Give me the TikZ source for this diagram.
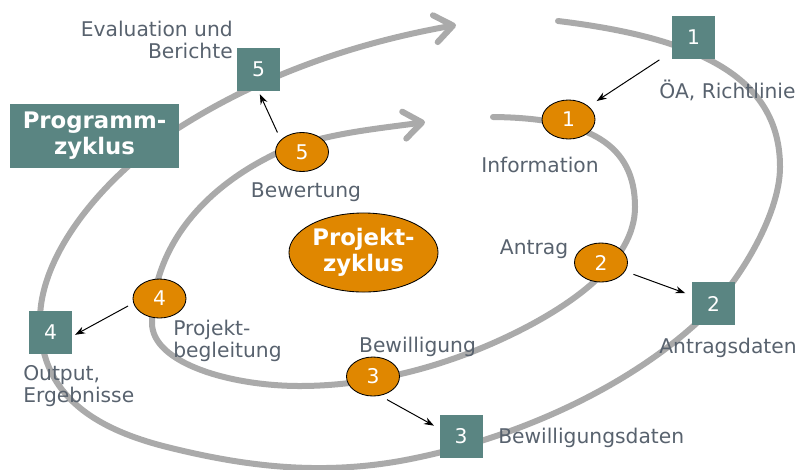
\documentclass[tikz,border=0pt]{standalone}
\usepackage{fontspec}
\setmainfont{DejaVu Sans}
\usetikzlibrary{arrows.meta,shapes.geometric}
\definecolor{petrol}{RGB}{90,133,130}
\definecolor{orangeb}{RGB}{224,135,0}
\definecolor{textgrau}{RGB}{88,98,110}
\definecolor{bahngrau}{RGB}{170,170,170}

\begin{document}
\begin{tikzpicture}[x=0.025cm, y=-0.025cm, every node/.style={font=\fontsize{14.4}{15.3}\selectfont},
	kasten/.style={fill=petrol, text=white, minimum size=1.075cm, inner sep=0pt},
	oval/.style={draw, ellipse, fill=orangeb, text=white, minimum width=1.325cm, minimum height=0.975cm, inner sep=0pt, line width=0.6pt},
	titel/.style={font=\bfseries\fontsize{16.2}{18.4}\selectfont, align=center},
	beschr/.style={text=textgrau, inner sep=0pt},
	bahn/.style={draw=bahngrau, line width=0.15cm, line cap=round, -{Straight Barb[length=0.45cm,width=0.68cm,round]}},
	pfeil/.style={-{Stealth[length=0.25cm,width=0.18cm]}, line width=0.7pt}]
		\useasboundingbox (0,0) rectangle (799,469);
		\draw[bahn] (558,21) .. controls (698,38) and (780,77) .. (780,167)
			.. controls (780,217) and (735,288) .. (700,320)
			.. controls (625,390) and (510,441) .. (400,461)
			.. controls (320,475) and (247,467) .. (167,447)
			.. controls (87,427) and (40,390) .. (40,320)
			.. controls (40,250) and (110,171) .. (180,127)
			.. controls (270,70) and (366,41) .. (456,25);
		\draw[bahn] (493,117) .. controls (590,118) and (635,145) .. (635,207)
			.. controls (635,262) and (570,308) .. (500,340)
			.. controls (430,372) and (360,386) .. (300,386)
			.. controls (230,386) and (152,363) .. (152,323)
			.. controls (152,253) and (197,191) .. (277,153)
			.. controls (322,133) and (385,128) .. (425,122);
		
		\node[kasten] (b1)at(693.5,37.5) {1};
		\node[kasten] (b2)at(713.5,303.5) {2};
		\node[kasten] (b3)at(461,436.5) {3};
		\node[kasten] (b4)at(50.5,332.5) {4};
		\node[kasten] (b5)at(258.5,69.5) {5};
		\node[kasten, titel, minimum width=4.225cm, minimum height=1.6cm] (prog)at(94.5,136) {Programm-\\zyklus};
		
		\node[oval] (e1)at(568.5,119.5) {1};
		\node[oval] (e2)at(601,262.5) {2};
		\node[oval] (e3)at(373,376.5) {3};
		\node[oval] (e4)at(159.5,298.5) {4};
		\node[oval] (e5)at(302,152) {5};
		\node[oval, titel, minimum width=3.725cm, minimum height=1.975cm] (proj)at(363.5,252.5) {Projekt-\\zyklus};
		
		\node[beschr, anchor=east, align=right] (evaltxt)at(233,40) {Evaluation und\\Berichte};
		\node[beschr, anchor=base] (oatxt)at(727.5,98) {ÖA, Richtlinie};
		\node[beschr, anchor=base] (infotxt)at(540,172) {Information};
		\node[beschr, anchor=base] (bewtxt)at(306,197) {Bewertung};
		\node[beschr, anchor=base] (antragtxt)at(534,254) {Antrag};
		\node[beschr, anchor=base] (adatentxt)at(728,353) {Antragsdaten};
		\node[beschr, anchor=base west] (bdatentxt)at(498,443) {Bewilligungsdaten};
		\node[beschr, anchor=base] (bewilltxt)at(417.5,352) {Bewilligung};
		\node[beschr, anchor=west, align=left] (begltxt)at(173,341) {Projekt-\\begleitung};
		\node[beschr, anchor=west, align=left] (outtxt)at(23,386) {Output,\\Ergebnisse};
		
		\draw[pfeil, shorten <=0.37cm, shorten >=0.24cm] (b1) -- (e1);
		\draw[pfeil, shorten <=0.22cm, shorten >=0.17cm] (e2) -- (b2);
		\draw[pfeil, shorten <=0.2cm, shorten >=0.15cm] (e3.-70) -- (b3.160);
		\draw[pfeil, shorten <=0.15cm, shorten >=0.08cm] (e4.190) -- (b4.-10);
		\draw[pfeil, shorten <=0.2cm, shorten >=0.08cm] (e5.150) -- (b5.south);
	\end{tikzpicture}
\end{document}
